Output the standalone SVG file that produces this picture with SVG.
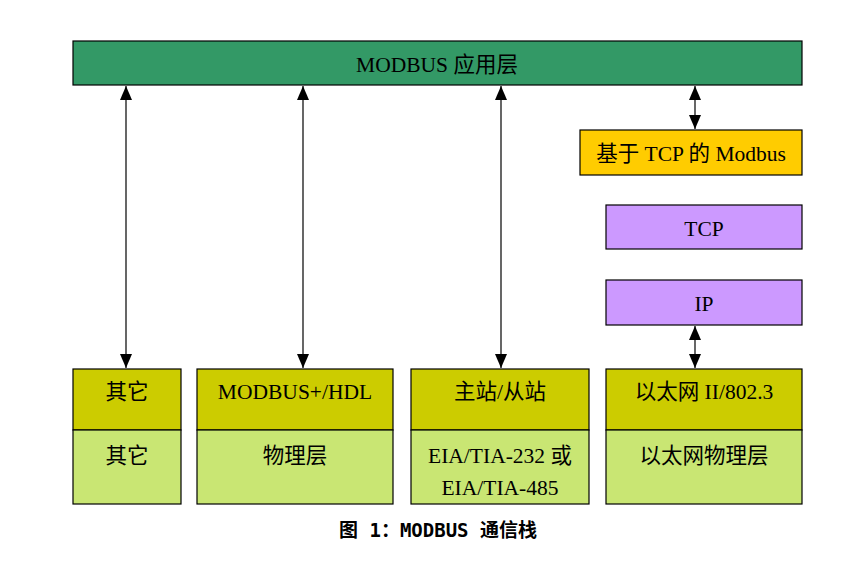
<svg xmlns="http://www.w3.org/2000/svg" width="857" height="564" viewBox="0 0 857 564">
<style>
.b{stroke:#000;stroke-width:1.2}
.t{font-family:"Liberation Serif","Noto Sans CJK SC",serif;font-size:21.5px;fill:#000;text-anchor:middle}
.c{stroke:#000;stroke-width:1.2;fill:none;marker-start:url(#a);marker-end:url(#a)}
.cap{font-family:"DejaVu Sans Mono","Noto Sans CJK SC",monospace;font-size:19px;font-weight:bold;fill:#000;text-anchor:middle}
</style>
<defs>
<marker id="a" viewBox="0 0 14 12" refX="14" refY="6" markerWidth="14" markerHeight="12" markerUnits="userSpaceOnUse" orient="auto-start-reverse">
<path d="M0,0 L14,6 L0,12 Z" fill="#000"/>
</marker>
</defs>
<rect width="857" height="564" fill="#fff"/>
<g id="app"><rect class="b" x="73" y="41" width="729" height="44" fill="#339966"/><text class="t" x="437" y="72">MODBUS 应用层</text></g>
<g id="mbtcp"><rect class="b" x="580" y="130" width="222" height="45" fill="#FFCC00"/><text class="t" x="691" y="161">基于 TCP 的 Modbus</text></g>
<g id="tcp"><rect class="b" x="606" y="205" width="196" height="44" fill="#CC99FF"/><text class="t" x="704" y="236">TCP</text></g>
<g id="ip"><rect class="b" x="606" y="280" width="196" height="45" fill="#CC99FF"/><text class="t" x="704" y="311">IP</text></g>
<g id="n1"><rect class="b" x="73" y="369" width="108" height="61" fill="#CCCC00"/><rect class="b" x="73" y="430" width="108" height="74" fill="#C9E673"/><text class="t" x="127" y="399">其它</text><text class="t" x="127" y="463">其它</text></g>
<g id="n2"><rect class="b" x="197" y="369" width="196" height="61" fill="#CCCC00"/><rect class="b" x="197" y="430" width="196" height="74" fill="#C9E673"/><text class="t" x="295" y="399">MODBUS+/HDL</text><text class="t" x="295" y="463">物理层</text></g>
<g id="n3"><rect class="b" x="411" y="369" width="178" height="61" fill="#CCCC00"/><rect class="b" x="411" y="430" width="178" height="74" fill="#C9E673"/><text class="t" x="500" y="399">主站/从站</text><text class="t" x="500" y="463">EIA/TIA-232 或</text><text class="t" x="500" y="495">EIA/TIA-485</text></g>
<g id="n4"><rect class="b" x="606" y="369" width="196" height="61" fill="#CCCC00"/><rect class="b" x="606" y="430" width="196" height="74" fill="#C9E673"/><text class="t" x="704" y="399">以太网 II/802.3</text><text class="t" x="704" y="463">以太网物理层</text></g>
<g id="connectors">
<line class="c" x1="126" y1="86" x2="126" y2="368"/>
<line class="c" x1="303" y1="86" x2="303" y2="368"/>
<line class="c" x1="501" y1="86" x2="501" y2="368"/>
<line class="c" x1="695" y1="86" x2="695" y2="129"/>
<line class="c" x1="695" y1="326" x2="695" y2="368"/>
</g>
<text class="cap" x="438" y="537">图 1：MODBUS 通信栈</text>
</svg>
